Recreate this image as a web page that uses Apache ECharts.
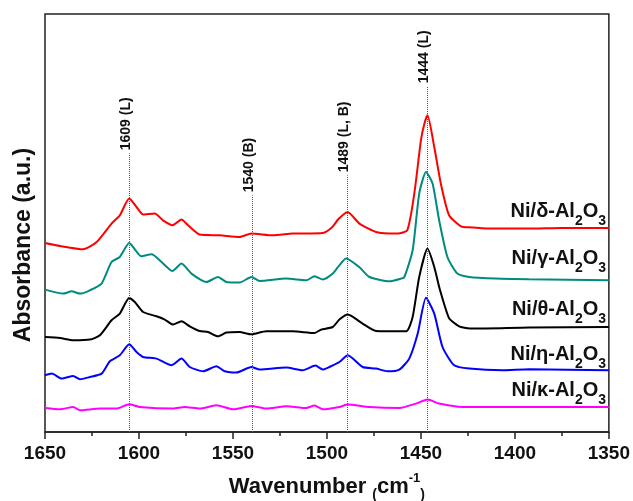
<!DOCTYPE html>
<html>
<head>
<meta charset="utf-8">
<script src="https://cdn.jsdelivr.net/npm/echarts@6/dist/echarts.min.js"></script>
<style>html,body{margin:0;padding:0;background:#fff;}#c{width:633px;height:501px;}</style>
</head>
<body>
<div id="c"></div>
<script>
// ---------- DATA ----------
const seriesNames = ['Ni/δ-Al2O3', 'Ni/γ-Al2O3', 'Ni/θ-Al2O3', 'Ni/η-Al2O3', 'Ni/κ-Al2O3'];
const seriesGreek = ['δ', 'γ', 'θ', 'η', 'κ'];
const xTicks = [1650, 1600, 1550, 1500, 1450, 1400, 1350];

const deltaSpec = [[1650,1.89],[1642,1.86],[1629.7,1.827],[1622.5,1.90],[1614.6,2.084],[1610.2,2.167],[1605.2,2.334],[1601.3,2.25],[1597.8,2.174],[1591.6,2.184],[1587.2,2.117],[1582.2,2.067],[1577.4,2.124],[1573.9,2.067],[1567.7,1.974],[1557.1,1.967],[1546.5,1.95],[1540.2,1.984],[1528.8,1.967],[1518.2,1.984],[1502.2,1.99],[1497.1,2.05],[1494,2.127],[1489,2.2],[1482.7,2.084],[1473.9,2.0],[1463.3,1.984],[1457.3,2.017],[1453.5,2.387],[1450,2.917],[1448.2,3.08],[1446.5,3.167],[1442.9,2.85],[1439.4,2.484],[1435,2.167],[1428.7,2.057],[1424.3,2.047],[1413.7,2.034],[1392.5,2.034],[1375,2.04],[1350,2.04]];

const gammaSpec = [[1650,1.424],[1640.3,1.384],[1635.8,1.407],[1631.4,1.384],[1626.1,1.417],[1619.9,1.484],[1614.6,1.70],[1610.2,1.75],[1605.2,1.89],[1598.7,1.757],[1593.3,1.777],[1588,1.70],[1582.2,1.61],[1577.4,1.684],[1572.1,1.584],[1564.1,1.50],[1558,1.55],[1553.5,1.50],[1546.5,1.494],[1540.2,1.55],[1535.8,1.51],[1521.7,1.534],[1511,1.517],[1506.6,1.557],[1502.2,1.524],[1496.9,1.584],[1493.4,1.667],[1489.8,1.734],[1482.7,1.647],[1477.4,1.55],[1466.8,1.507],[1460.6,1.534],[1458.8,1.55],[1454.4,1.817],[1450.9,2.384],[1447.3,2.60],[1443.8,2.484],[1440.3,2.117],[1435.9,1.75],[1430.6,1.584],[1424.3,1.55],[1410.2,1.534],[1392.5,1.527],[1350,1.517]];

const thetaSpec = [[1650,0.95],[1642,0.94],[1635,0.917],[1626.1,0.924],[1620.8,0.967],[1614.6,1.117],[1610.2,1.184],[1605.2,1.34],[1602.2,1.30],[1597.8,1.20],[1590.7,1.157],[1586.3,1.124],[1581.9,1.074],[1577.4,1.107],[1573,1.057],[1567.7,1.01],[1563.3,1.0],[1558,0.957],[1553.5,0.994],[1546.5,1.0],[1540.2,0.977],[1532.3,1.007],[1518.2,1.007],[1506.6,0.99],[1503.1,1.024],[1496.9,1.05],[1493.4,1.124],[1488.9,1.174],[1481,1.084],[1473.9,1.01],[1457.9,1.007],[1454.4,1.15],[1450.9,1.55],[1446.5,1.834],[1442.9,1.65],[1439.8,1.417],[1435,1.137],[1430.6,1.067],[1428.7,1.05],[1422.6,1.034],[1392.5,1.044],[1350,1.05]];

const etaSpec = [[1650,0.567],[1646.4,0.584],[1641.1,0.534],[1635,0.56],[1631.4,0.527],[1626.1,0.55],[1619.9,0.584],[1615.5,0.707],[1610.2,0.767],[1605.2,0.877],[1601.3,0.80],[1597.8,0.75],[1590.7,0.734],[1582.7,0.667],[1577.4,0.734],[1573,0.65],[1565.9,0.607],[1558.8,0.657],[1554.4,0.607],[1548.2,0.594],[1540.2,0.65],[1535.8,0.624],[1521.7,0.644],[1512.8,0.617],[1506.1,0.664],[1502.2,0.624],[1498.7,0.65],[1493.4,0.70],[1488.9,0.767],[1481,0.65],[1473.9,0.634],[1467.7,0.607],[1461.5,0.624],[1456.2,0.734],[1451.7,0.984],[1447.3,1.342],[1442.9,1.184],[1438.5,0.85],[1432.3,0.667],[1424.3,0.634],[1406.6,0.617],[1392.5,0.627],[1350,0.617]];

const kappaSpec = [[1650,0.24],[1642,0.227],[1635,0.25],[1631.4,0.217],[1620.8,0.234],[1611.9,0.234],[1605.2,0.277],[1599.6,0.25],[1581.9,0.234],[1575.7,0.25],[1567.7,0.234],[1558.8,0.267],[1550,0.227],[1540.2,0.26],[1532.3,0.234],[1521.7,0.257],[1511,0.24],[1506.6,0.264],[1502.2,0.227],[1493.4,0.25],[1488.9,0.274],[1477.4,0.25],[1461.5,0.24],[1452.6,0.284],[1446.5,0.324],[1440.3,0.284],[1427.9,0.25],[1392.5,0.25],[1350,0.25]];

const peakPositions = [1605, 1540, 1489, 1446.5];
const peakLabels = ['1609 (L)', '1540 (B)', '1489 (L, B)', '1444 (L)'];

// ---------- LAYOUT / STYLE ----------
const peakLineTops = [2.787, 2.367, 2.567, 3.457];
const labelAnchorY = [2.207, 1.737, 1.227, 0.777, 0.417];
const colors = ['#ff0000', '#008b80', '#000000', '#0000ff', '#ff00ff'];
const FONT = '"Liberation Sans", Arial, sans-serif';
const specs = [deltaSpec, gammaSpec, thetaSpec, etaSpec, kappaSpec];

const chart = echarts.init(document.getElementById('c'), null, {renderer: 'canvas'});

const series = specs.map((d, i) => ({
  name: seriesNames[i],
  type: 'line',
  data: d,
  symbol: 'none',
  smooth: 0.2,
  lineStyle: {color: colors[i], width: 2},
  itemStyle: {color: colors[i]},
  z: 3
}));
series[0].markLine = {
  silent: true,
  symbol: ['none', 'none'],
  label: {show: false},
  lineStyle: {type: 'dotted', color: '#555', width: 1},
  data: peakPositions.map((p, i) => [{coord: [p, 0]}, {coord: [p, peakLineTops[i]]}])
};

chart.setOption({
  animation: false,
  backgroundColor: '#fff',
  grid: {left: 45, right: 23, top: 14, bottom: 69, show: true, borderColor: '#222', borderWidth: 1.5, backgroundColor: 'transparent'},
  xAxis: {
    type: 'value', inverse: true, min: 1350, max: 1650, interval: 50,
    axisLine: {show: true, onZero: false, lineStyle: {color: '#222', width: 1.5}},
    axisTick: {show: true, length: 7, lineStyle: {color: '#222', width: 1.5}},
    minorTick: {show: true, splitNumber: 2, length: 4, lineStyle: {color: '#222', width: 1.5}},
    axisLabel: {margin: 12, fontFamily: FONT, fontWeight: 'bold', fontSize: 19, color: '#111',
      formatter: v => xTicks.includes(v) ? String(v) : ''},
    splitLine: {show: false}, minorSplitLine: {show: false}
  },
  yAxis: {type: 'value', min: 0, max: 4.18, show: false, splitLine: {show: false}},
  series: series
});

const toPx = (x, y) => chart.convertToPixel({gridIndex: 0}, [x, y]);
const graphics = [];

peakPositions.forEach((p, i) => {
  const pt = toPx(p, peakLineTops[i]);
  graphics.push({
    type: 'text', x: pt[0] - 3, y: pt[1] - 3, rotation: Math.PI / 2,
    style: {text: peakLabels[i], font: 'bold 14px ' + FONT, fill: '#111', textAlign: 'left', textVerticalAlign: 'middle'}
  });
});

seriesGreek.forEach((g, i) => {
  const pt = toPx(1351.5, labelAnchorY[i]);
  graphics.push({
    type: 'text', x: pt[0], y: pt[1],
    style: {
      text: '{m|Ni/' + g + '-Al}{s|2}{m|O}{s|3}',
      textAlign: 'right', textVerticalAlign: 'middle',
      rich: {
        m: {font: 'bold 20px ' + FONT, fill: '#111', lineHeight: 34, verticalAlign: 'middle'},
        s: {font: 'bold 14px ' + FONT, fill: '#111', lineHeight: 14, verticalAlign: 'bottom'}
      }
    }
  });
});

graphics.push({
  type: 'text', x: 24, y: 245, rotation: Math.PI / 2,
  style: {text: 'Absorbance (a.u.)', font: 'bold 23px ' + FONT, fill: '#111', textAlign: 'center', textVerticalAlign: 'middle'}
});

const gridCenter = (toPx(1650, 0)[0] + toPx(1350, 0)[0]) / 2;
graphics.push({
  type: 'text', x: gridCenter, y: 487,
  style: {
    text: '{m|Wavenumber }{p|(}{m|cm}{u|-1}{p|)}',
    textAlign: 'center', textVerticalAlign: 'middle',
    rich: {
      m: {font: 'bold 22px ' + FONT, fill: '#111', lineHeight: 30, verticalAlign: 'middle'},
      p: {font: 'bold 14px ' + FONT, fill: '#111', lineHeight: 20, verticalAlign: 'bottom'},
      u: {font: 'bold 13px ' + FONT, fill: '#111', lineHeight: 13, verticalAlign: 'top'}
    }
  }
});

chart.setOption({graphic: graphics});
</script>
</body>
</html>
